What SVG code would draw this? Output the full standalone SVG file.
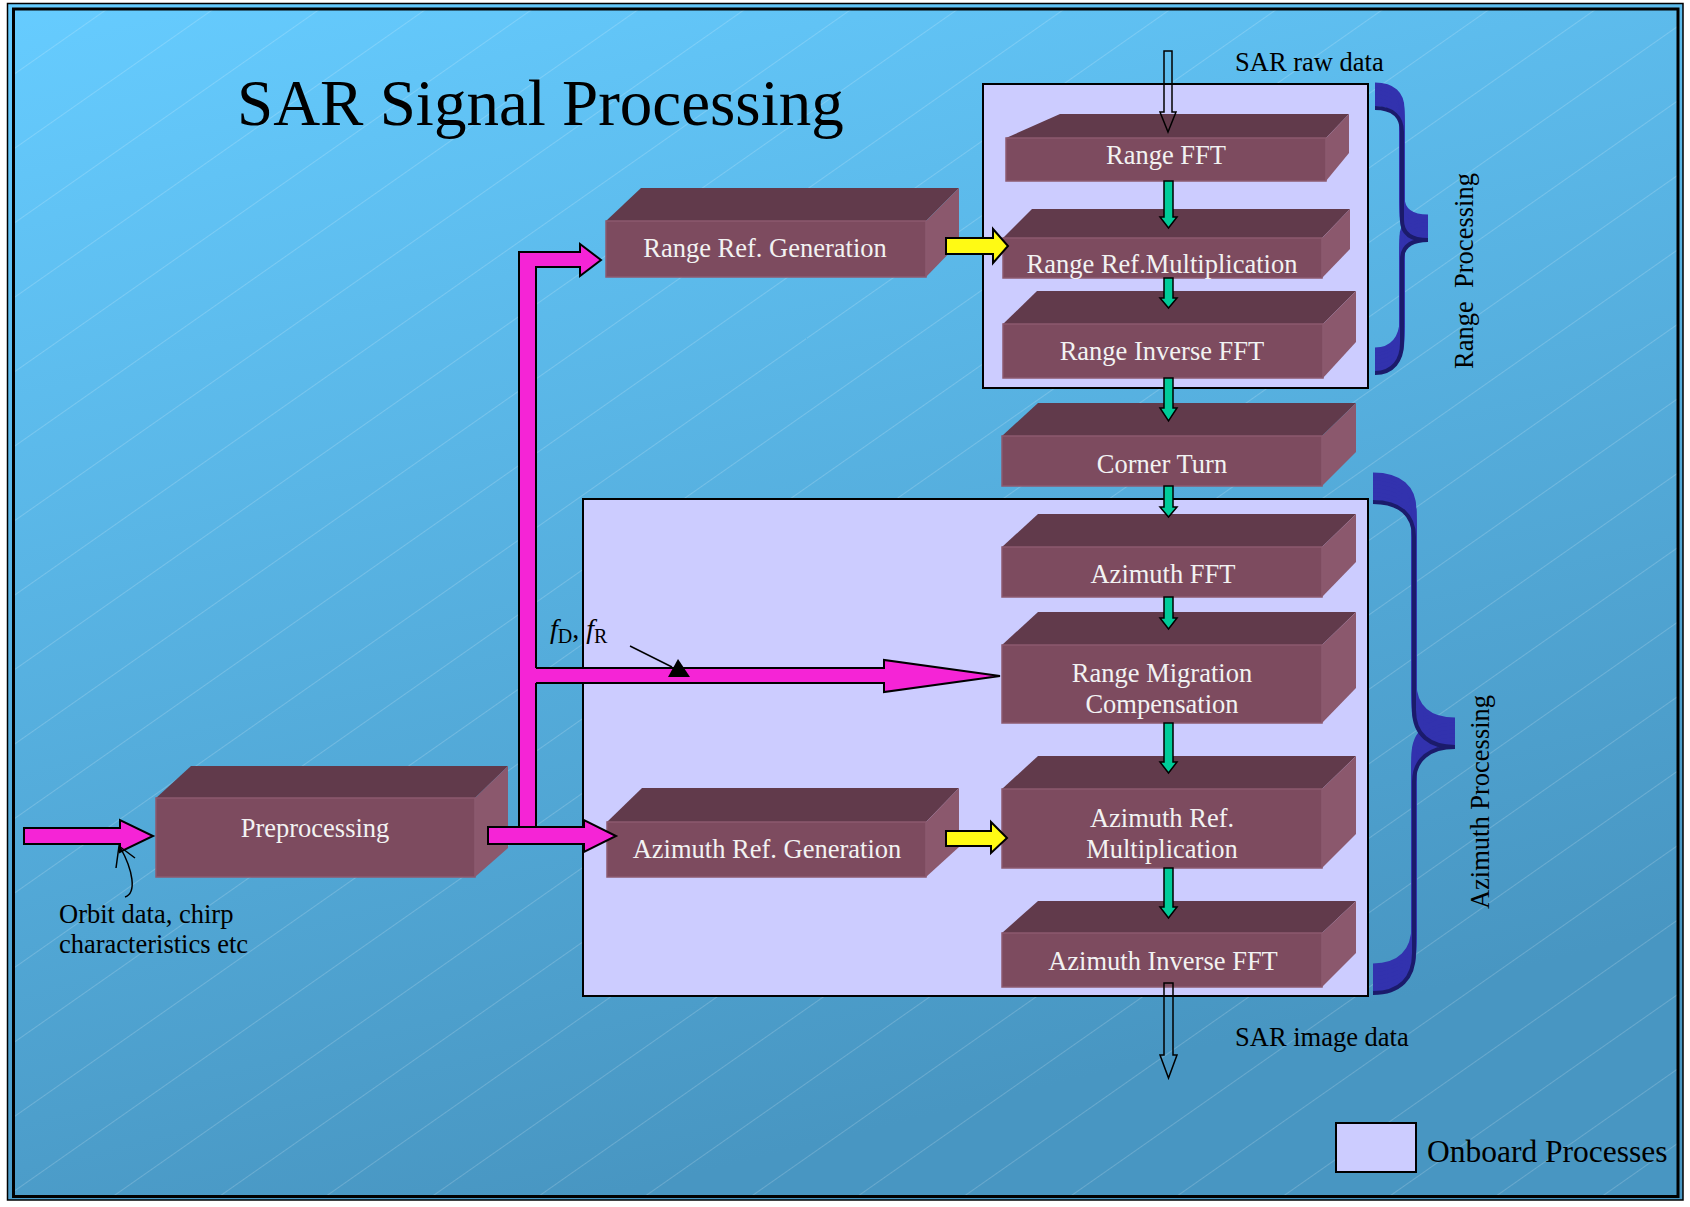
<svg xmlns="http://www.w3.org/2000/svg" xmlns:xlink="http://www.w3.org/1999/xlink" width="1690" height="1207" viewBox="0 0 1690 1207">
<defs>
<linearGradient id="bg" x1="0" y1="0" x2="0.35" y2="1">
<stop offset="0" stop-color="#66CCFF"/>
<stop offset="1" stop-color="#4896C2"/>
</linearGradient>
<pattern id="hatch" patternUnits="userSpaceOnUse" width="300" height="61" patternTransform="translate(0,9) rotate(-35)">
<line x1="0" y1="0.5" x2="300" y2="0.5" stroke="#FFFFFF" stroke-opacity="0.3" stroke-width="0.6"/>
</pattern>
<path id="rbrace" d="M1375,108 C1393,108 1402,117 1402,132 L1402,220 C1402,233 1410,240 1428,240 C1410,240 1402,247 1402,260 L1402,343 C1402,360 1393,373 1375,373"/>
<path id="abrace" d="M1373,502 C1400,502 1414,515 1414,537 L1414,710 C1414,735 1430,747 1455,747 C1430,747 1414,759 1414,782 L1414,953 C1414,978 1400,993 1373,993"/>
</defs>
<style>
.front{fill:#7D4B5F;stroke:#8C5A6F;stroke-width:1.5}
.top{fill:#613A4B}
.side{fill:#8B586D}
.bt{font-family:"Liberation Serif","Times New Roman",serif;font-size:26.5px;fill:#F2F2F2;text-anchor:middle}
.lbl{font-family:"Liberation Serif","Times New Roman",serif;font-size:26.5px;fill:#000}
.onb{fill:#CCCCFF;stroke:#000;stroke-width:2}
.green{fill:#00CC99;stroke:#000;stroke-width:1.5}
.pink{fill:#F524D6;stroke:#000;stroke-width:2}
.yel{fill:#FFFA14;stroke:#000;stroke-width:2}
.hollow{fill:none;stroke:#000;stroke-width:1.5}
.ext{fill:none;stroke:#3232AE;stroke-width:5}
.brace{fill:none;stroke:#1B1B6B;stroke-width:4}
</style>

<!-- background & frame -->
<rect x="0" y="0" width="1690" height="1207" fill="#FFFFFF"/>
<rect x="7.5" y="3.5" width="1675.5" height="1196.5" fill="url(#bg)" stroke="#000" stroke-width="1.5"/>
<rect x="13.5" y="9" width="1664.5" height="1187.5" fill="url(#hatch)" stroke="#000" stroke-width="3"/>

<text x="237" y="125" font-family="Liberation Serif, Times New Roman, serif" font-size="65" fill="#000">SAR Signal Processing</text>

<!-- onboard regions -->
<g id="onboard-range"><rect class="onb" x="983" y="84" width="385" height="304"/></g>
<g id="onboard-azimuth"><rect class="onb" x="583" y="499" width="785" height="497"/></g>

<!-- blocks -->
<g id="range-fft">
<polygon class="top" points="1006,138 1060,114 1349,114 1326,138"/>
<polygon class="side" points="1326,138 1349,114 1349,153 1326,181"/>
<rect class="front" x="1006" y="138" width="320" height="43"/>
<text class="bt" x="1166" y="164">Range FFT</text>
</g>
<g id="range-ref-mult">
<polygon class="top" points="1003,238 1032,209 1350,209 1322,238"/>
<polygon class="side" points="1322,238 1350,209 1350,249 1322,278"/>
<rect class="front" x="1003" y="238" width="319" height="40"/>
<text class="bt" x="1162" y="273">Range Ref.Multiplication</text>
</g>
<g id="range-inverse-fft">
<polygon class="top" points="1003,324 1037,291 1356,291 1323,324"/>
<polygon class="side" points="1323,324 1356,291 1356,342 1323,378"/>
<rect class="front" x="1003" y="324" width="320" height="54"/>
<text class="bt" x="1162" y="360">Range Inverse FFT</text>
</g>
<g id="corner-turn">
<polygon class="top" points="1002,436 1038,403 1356,403 1322,436"/>
<polygon class="side" points="1322,436 1356,403 1356,452 1322,486"/>
<rect class="front" x="1002" y="436" width="320" height="50"/>
<text class="bt" x="1162" y="473">Corner Turn</text>
</g>
<g id="azimuth-fft">
<polygon class="top" points="1002,547 1038,514 1356,514 1322,547"/>
<polygon class="side" points="1322,547 1356,514 1356,562 1322,597"/>
<rect class="front" x="1002" y="547" width="320" height="50"/>
<text class="bt" x="1163" y="583">Azimuth FFT</text>
</g>
<g id="range-migration">
<polygon class="top" points="1002,645 1038,612 1356,612 1322,645"/>
<polygon class="side" points="1322,645 1356,612 1356,688 1322,723"/>
<rect class="front" x="1002" y="645" width="320" height="78"/>
<text class="bt" x="1162" y="682">Range Migration</text>
<text class="bt" x="1162" y="713">Compensation</text>
</g>
<g id="azimuth-ref-mult">
<polygon class="top" points="1002,789 1038,756 1356,756 1322,789"/>
<polygon class="side" points="1322,789 1356,756 1356,834 1322,868"/>
<rect class="front" x="1002" y="789" width="320" height="79"/>
<text class="bt" x="1162" y="827">Azimuth Ref.</text>
<text class="bt" x="1162" y="858">Multiplication</text>
</g>
<g id="azimuth-inverse-fft">
<polygon class="top" points="1002,933 1038,901 1356,901 1322,933"/>
<polygon class="side" points="1322,933 1356,901 1356,953 1322,987"/>
<rect class="front" x="1002" y="933" width="320" height="54"/>
<text class="bt" x="1163" y="970">Azimuth Inverse FFT</text>
</g>
<g id="range-ref-gen">
<polygon class="top" points="606,221 641,188 959,188 926,221"/>
<polygon class="side" points="926,221 959,188 959,243 926,277"/>
<rect class="front" x="606" y="221" width="320" height="56"/>
<text class="bt" x="765" y="257">Range Ref. Generation</text>
</g>
<g id="azimuth-ref-gen">
<polygon class="top" points="607,822 642,788 959,788 926,822"/>
<polygon class="side" points="926,822 959,788 959,847 926,877"/>
<rect class="front" x="607" y="822" width="319" height="55"/>
<text class="bt" x="767" y="858">Azimuth Ref. Generation</text>
</g>
<g id="preprocessing">
<polygon class="top" points="156,798 191,766 508,766 475,798"/>
<polygon class="side" points="475,798 508,766 508,848 475,877"/>
<rect class="front" x="156" y="798" width="319" height="79"/>
<text class="bt" x="315" y="837">Preprocessing</text>
</g>

<!-- connectors -->
<g id="connectors">
<path class="hollow" d="M1164,51 L1172,51 L1172,112 L1176,112 L1168,132 L1160,112 L1164,112 Z"/>
<path class="green" d="M1164,181 L1173,181 L1173,217 L1177,217 L1168.5,228 L1160,217 L1164,217 Z"/>
<path class="green" d="M1164,278 L1173,278 L1173,298 L1177,298 L1168.5,308 L1160,298 L1164,298 Z"/>
<path class="green" d="M1164,378 L1173,378 L1173,408 L1177,408 L1168.5,421 L1160,408 L1164,408 Z"/>
<path class="green" d="M1164,486 L1173,486 L1173,507 L1177,507 L1168.5,517 L1160,507 L1164,507 Z"/>
<path class="green" d="M1164,597 L1173,597 L1173,618 L1177,618 L1168.5,629 L1160,618 L1164,618 Z"/>
<path class="green" d="M1164,723 L1173,723 L1173,762 L1177,762 L1168.5,773 L1160,762 L1164,762 Z"/>
<path class="green" d="M1164,868 L1173,868 L1173,907 L1177,907 L1168.5,918 L1160,907 L1164,907 Z"/>
<path class="hollow" d="M1164,983 L1173,983 L1173,1055 L1177,1055 L1168.5,1078 L1160,1055 L1164,1055 Z"/>

<path class="yel" d="M946,238 L993,238 L993,229 L1008,246 L993,263 L993,254 L946,254 Z"/>
<path class="yel" d="M946,831 L991,831 L991,822 L1007,838 L991,853 L991,846 L946,846 Z"/>

<path class="pink" d="M519,836 L519,252 L580,252 L580,244 L601,260 L580,276 L580,267 L536,267 L536,836 Z"/>
<polygon points="533,668 884,668 884,660 1000,676 884,692 884,683 533,683" fill="#F524D6"/>
<path d="M536,668 L884,668 L884,660 L1000,676 L884,692 L884,683 L536,683" fill="none" stroke="#000" stroke-width="2"/>
<path class="pink" d="M488,827 L584,827 L584,820 L616,836 L584,852 L584,844 L488,844 Z"/>
<path class="pink" d="M24,828 L120,828 L120,820 L153,836 L120,852 L120,844 L24,844 Z"/>

<path d="M125,897 C137,893 133,870 120,847" fill="none" stroke="#000" stroke-width="1.5"/>
<path d="M116,868 L119,846 L135,858" fill="none" stroke="#000" stroke-width="1.5"/>

<line x1="630" y1="646" x2="672" y2="667" stroke="#000" stroke-width="1.5"/>
<polygon points="678,659 668,677 690,677" fill="#000"/>
</g>

<text x="550" y="638" font-family="Liberation Serif, Times New Roman, serif" font-size="28" fill="#000"><tspan font-style="italic">f</tspan><tspan font-size="20" dy="5">D</tspan><tspan dy="-5">, </tspan><tspan font-style="italic">f</tspan><tspan font-size="20" dy="5">R</tspan></text>

<text class="lbl" x="1235" y="71">SAR raw data</text>
<text class="lbl" x="1235" y="1046">SAR image data</text>
<text class="lbl" x="59" y="923">Orbit data, chirp</text>
<text class="lbl" x="59" y="953">characteristics etc</text>

<!-- braces -->
<g id="range-brace">
<use xlink:href="#rbrace" class="ext" transform="translate(0,-4)"/>
<use xlink:href="#rbrace" class="ext" transform="translate(0,-8)"/>
<use xlink:href="#rbrace" class="ext" transform="translate(0,-12)"/>
<use xlink:href="#rbrace" class="ext" transform="translate(0,-16)"/>
<use xlink:href="#rbrace" class="ext" transform="translate(0,-20)"/>
<use xlink:href="#rbrace" class="ext" transform="translate(0,-23)"/>
<use xlink:href="#rbrace" class="brace"/>
<text class="lbl" text-anchor="middle" xml:space="preserve" transform="translate(1473,271) rotate(-90)">Range  Processing</text>
</g>
<g id="azimuth-brace">
<use xlink:href="#abrace" class="ext" transform="translate(0,-4)"/>
<use xlink:href="#abrace" class="ext" transform="translate(0,-8)"/>
<use xlink:href="#abrace" class="ext" transform="translate(0,-12)"/>
<use xlink:href="#abrace" class="ext" transform="translate(0,-16)"/>
<use xlink:href="#abrace" class="ext" transform="translate(0,-20)"/>
<use xlink:href="#abrace" class="ext" transform="translate(0,-24)"/>
<use xlink:href="#abrace" class="ext" transform="translate(0,-27)"/>
<use xlink:href="#abrace" class="brace"/>
<text class="lbl" text-anchor="middle" transform="translate(1489,802) rotate(-90)">Azimuth Processing</text>
</g>

<!-- legend -->
<g id="legend">
<rect class="onb" x="1336" y="1123" width="80" height="49"/>
<text x="1427" y="1162" font-family="Liberation Serif, Times New Roman, serif" font-size="31.5" fill="#000">Onboard Processes</text>
</g>
</svg>
